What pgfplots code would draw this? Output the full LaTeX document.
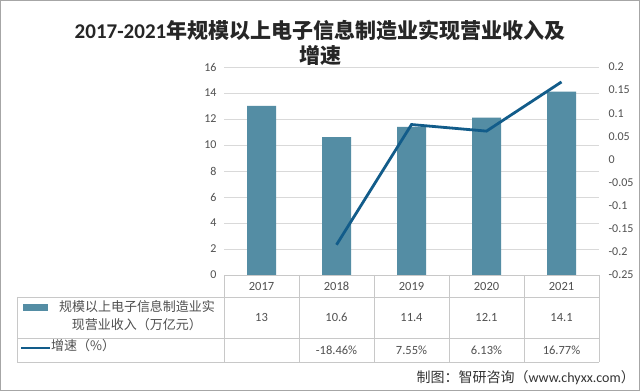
\documentclass[border=0pt]{standalone}
\usepackage{pgfplots}
\pgfplotsset{compat=1.18}
\usepackage{fontspec}
\setmainfont{Carlito}
\newfontfamily\cjk{Noto Sans CJK SC}
\definecolor{barc}{RGB}{84,141,164}
\definecolor{linec}{RGB}{18,92,138}
\definecolor{txt}{RGB}{80,80,80}
\definecolor{gridc}{RGB}{217,217,217}
\definecolor{tabc}{RGB}{200,200,200}
\begin{document}
\begin{tikzpicture}[x=1pt,y=1pt]
\useasboundingbox (0,0) rectangle (640,391);
\fill[white] (0,0) rectangle (640,391);
\draw[gray!70, line width=1pt] (0.5,0.5) rectangle (639.5,390.5);
% title
\node[font=\fontsize{21}{24}\selectfont\bfseries, text=black!85] at (320,361) {2017-2021{\cjk\bfseries 年规模以上电子信息制造业实现营业收入及}};
\node[font=\fontsize{21}{24}\selectfont\bfseries, text=black!85] at (320,336) {\cjk\bfseries 增速};
% bars
\begin{axis}[at={(224pt,116pt)}, anchor=south west, width=375pt, height=208pt, scale only axis,
  xmin=-0.5, xmax=4.5, ymin=0, ymax=16, ytick={0,2,...,16}, xtick=\empty,
  ymajorgrids, grid style={gridc, line width=0.8pt},
  axis line style={draw=none}, major tick length=0pt, tick style={draw=none},
  yticklabel style={font=\fontsize{12}{14}\selectfont, text=txt, xshift=-4pt},
  /pgf/number format/assume math mode=true, clip=false]
\addplot[ybar, bar width=29pt, fill=barc, draw=none] coordinates {(0,13) (1,10.6) (2,11.4) (3,12.1) (4,14.1)};
\end{axis}
% growth line
\begin{axis}[at={(224pt,116pt)}, anchor=south west, width=375pt, height=208pt, scale only axis,
  xmin=-0.5, xmax=4.5, ymin=-0.25, ymax=0.2,
  axis y line*=right, axis x line=none,
  ytick={-0.25,-0.2,-0.15,-0.1,-0.05,0,0.05,0.1,0.15,0.2},
  yticklabels={-0.25,-0.2,-0.15,-0.1,-0.05,0,0.05,0.1,0.15,0.2},
  axis line style={draw=none}, major tick length=0pt, tick style={draw=none},
  yticklabel style={font=\fontsize{12}{14}\selectfont, text=txt, xshift=6pt},
  /pgf/number format/assume math mode=true, clip=false]
\addplot[linec, line width=2.8pt, mark=none] coordinates {(1,-0.1846) (2,0.0755) (3,0.0613) (4,0.1677)};
\end{axis}
% data table
\draw[tabc, line width=0.8pt] (224,116) -- (599,116);
\draw[tabc, line width=0.8pt] (17,94) -- (599,94);
\draw[tabc, line width=0.8pt] (17,53) -- (599,53);
\draw[tabc, line width=0.8pt] (17,29) -- (599,29);
\draw[tabc, line width=0.8pt] (17,94) -- (17,29);
\foreach \xx in {224,299,374,449,524,599} {\draw[tabc, line width=0.8pt] (\xx,116) -- (\xx,29);}
\foreach \yr [count=\i from 0] in {2017,2018,2019,2020,2021} {
  \node[font=\fontsize{12.5}{14}\selectfont, text=txt] at (261.5+75*\i,105) {\yr};}
\foreach \v [count=\i from 0] in {13,10.6,11.4,12.1,14.1} {
  \node[font=\fontsize{12.5}{14}\selectfont, text=txt] at (261.5+75*\i,73.5) {\v};}
\foreach \v [count=\i from 1] in {-18.46\%,7.55\%,6.13\%,16.77\%} {
  \node[font=\fontsize{12.5}{14}\selectfont, text=txt] at (261.5+75*\i,41) {\v};}
% legend keys
\fill[barc] (23,80) rectangle (48,87);
\node[font=\cjk\fontsize{13}{18}\selectfont, text=txt, align=center] at (137,75) {规模以上电子信息制造业实\\现营业收入（万亿元）};
\draw[linec, line width=2.8pt] (21,43) -- (50,43);
\node[font=\cjk\fontsize{13}{15}\selectfont, text=txt, anchor=west, inner sep=1pt] at (50,45) {增速（\%）};
% source
\node[font=\fontsize{14}{16}\selectfont, text=black!80, anchor=east, inner sep=0pt] at (635,13) {{\cjk 制图：智研咨询（}www.chyxx.com{\cjk ）}};
\end{tikzpicture}
\end{document}
